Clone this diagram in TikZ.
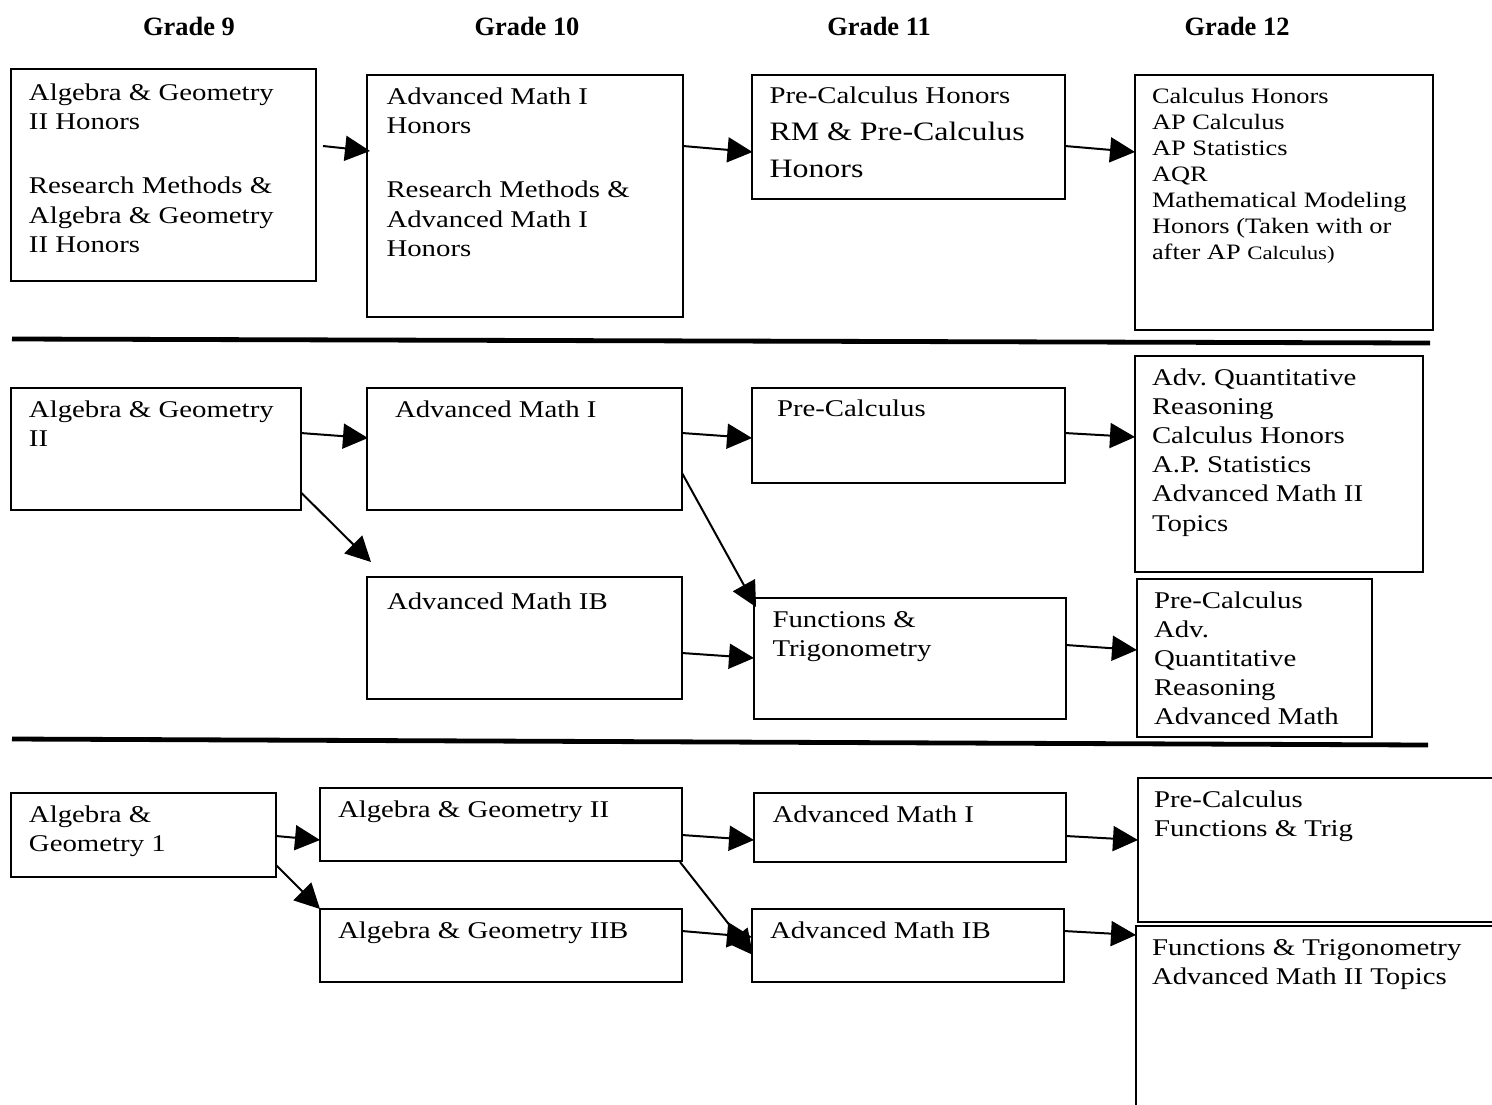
\documentclass[tikz,border=0pt]{standalone}
\usepackage{fontspec}
\setmainfont{Liberation Serif}[FakeStretch=1.2]
\newfontfamily\hdfont{Liberation Serif}
\usetikzlibrary{arrows.meta}
\frenchspacing
% #1 width px, #2 height px, #3 first baseline px, #4 left pad px, #5 text
\newcommand\bx[5]{\parbox[c][\dimexpr#2pt/2\relax][t]{\dimexpr#1pt/2\relax}{\raggedright\leftskip=\dimexpr#4pt/2\relax\relax\rule{0pt}{\dimexpr#3pt/2\relax}#5}}
\tikzset{
  box/.style={draw, line width=1pt, inner sep=0pt, outer sep=0pt, anchor=north west,
    font=\fontsize{12}{14.6}\selectfont},
  hd/.style={font=\hdfont\bfseries\fontsize{13.2}{15}\selectfont, anchor=base, inner sep=0pt},
  arr/.style={line width=1pt, -{Triangle[length=12.5pt,width=12.5pt]}},
  sepline/.style={line width=2.4pt}
}
\begin{document}
\begin{tikzpicture}[x=0.5pt,y=-0.5pt]
\useasboundingbox (0,0) rectangle (1492,1104);
\clip (0,0) rectangle (1492,1104);

% headers
\node[hd] (g9)  at (189,35)  {Grade 9};
\node[hd] (g10) at (527,35)  {Grade 10};
\node[hd] (g11) at (879,35)  {Grade 11};
\node[hd] (g12) at (1237,35) {Grade 12};

% row 1
\node[box] (b1) at (10.5,69) {\bx{305}{212}{31}{18.5}{Algebra \& Geometry\\II Honors\\[17.75pt]Research Methods \&\\Algebra \& Geometry\\II Honors}};
\node[box] (b2) at (367,75) {\bx{316}{242}{29}{19.5}{Advanced Math I\\Honors\\[17.75pt]Research Methods \&\\Advanced Math I\\Honors}};
\node[box] (b3) at (751.5,75) {\bx{313.5}{124}{28}{18}{Pre-Calculus Honors\par\fontsize{13.3}{18.5}\selectfont RM \& Pre-Calculus\\Honors}};
\node[box] (b4) at (1135,75) {\bx{298}{255}{28}{17}{\fontsize{11}{13}\selectfont Calculus Honors\\AP Calculus\\AP Statistics\\AQR\\Mathematical Modeling\\Honors (Taken with or\\after AP {\fontsize{9.5}{13}\selectfont Calculus)}}};

\draw[sepline] (12,339) -- (1430,343);

% row 2
\node[box] (c1) at (10.5,388) {\bx{290}{122}{29}{18.5}{Algebra \& Geometry\\II}};
\node[box] (c2) at (367,388) {\bx{315}{122}{29}{28}{Advanced Math I}};
\node[box] (c3) at (367,577) {\bx{315}{122}{32}{20}{Advanced Math IB}};
\node[box] (c4) at (751.5,388) {\bx{313}{95}{28}{25.5}{Pre-Calculus}};
\node[box] (c5) at (754,598) {\bx{312}{121}{29}{18.5}{Functions \&\\Trigonometry}};
\node[box] (c6) at (1135,356) {\bx{288}{216}{29}{17}{Adv. Quantitative\\Reasoning\\Calculus Honors\\A.P. Statistics\\Advanced Math II\\Topics}};
\node[box] (c7) at (1137,579) {\bx{235}{158}{29}{17}{Pre-Calculus\\Adv.\\Quantitative\\Reasoning\\Advanced Math}};

\draw[sepline] (12,739) -- (1428,745);

% row 3
\node[box] (d1) at (10.5,793) {\bx{265.5}{84}{29}{18.5}{Algebra \&\\Geometry 1}};
\node[box] (d2) at (320,788) {\bx{362}{73}{29}{18}{Algebra \& Geometry II}};
\node[box] (d3) at (320,909) {\bx{362}{73}{29}{18}{Algebra \& Geometry IIB}};
\node[box] (d4) at (754,793) {\bx{312}{69}{29}{18.5}{Advanced Math I}};
\node[box] (d5) at (751.5,909) {\bx{312.5}{73}{29}{18.5}{Advanced Math IB}};
\node[box] (d6) at (1138,778) {\bx{400}{144}{29}{16}{Pre-Calculus\\Functions \& Trig}};
\node[box] (d7) at (1136,926) {\bx{400}{250}{29}{16}{Functions \& Trigonometry\\Advanced Math II Topics}};

% connectors row 1
\draw[arr] ([shift={(7.5,77)}]b1.north east) -- ([shift={(3,76)}]b2.north west);
\draw[arr] ([shift={(0,71)}]b2.north east) -- ([shift={(1,77)}]b3.north west);
\draw[arr] ([shift={(0,71)}]b3.north east) -- ([shift={(0,77)}]b4.north west);
% connectors row 2
\draw[arr] ([shift={(0,45)}]c1.north east) -- ([shift={(1,50)}]c2.north west);
\draw[arr] ([shift={(0,104)}]c1.north east) -- ([shift={(4,-15)}]c3.north west);
\draw[arr] ([shift={(0,45)}]c2.north east) -- ([shift={(0.5,50)}]c4.north west);
\draw[arr] ([shift={(0,85)}]c2.north east) -- ([shift={(2,9)}]c5.north west);
\draw[arr] ([shift={(0,76)}]c3.north east) -- ([shift={(0,60)}]c5.north west);
\draw[arr] ([shift={(0,45)}]c4.north east) -- ([shift={(0,81)}]c6.north west);
\draw[arr] ([shift={(0,47)}]c5.north east) -- ([shift={(0,71)}]c7.north west);
% connectors row 3
\draw[arr] ([shift={(0,43)}]d1.north east) -- ([shift={(0,52)}]d2.north west);
\draw[arr] ([shift={(0,72)}]d1.north east) -- (d3.north west);
\draw[arr] ([shift={(0,47)}]d2.north east) -- ([shift={(0,47)}]d4.north west);
\draw[arr] ([shift={(-2,1)}]d2.south east) -- ([shift={(1.5,46)}]d5.north west);
\draw[arr] ([shift={(0,22)}]d3.north east) -- ([shift={(0.5,28)}]d5.north west);
\draw[arr] ([shift={(0,43)}]d4.north east) -- ([shift={(0,62)}]d6.north west);
\draw[arr] ([shift={(0,22)}]d5.north east) -- ([shift={(0,9)}]d7.north west);
\end{tikzpicture}
\end{document}
